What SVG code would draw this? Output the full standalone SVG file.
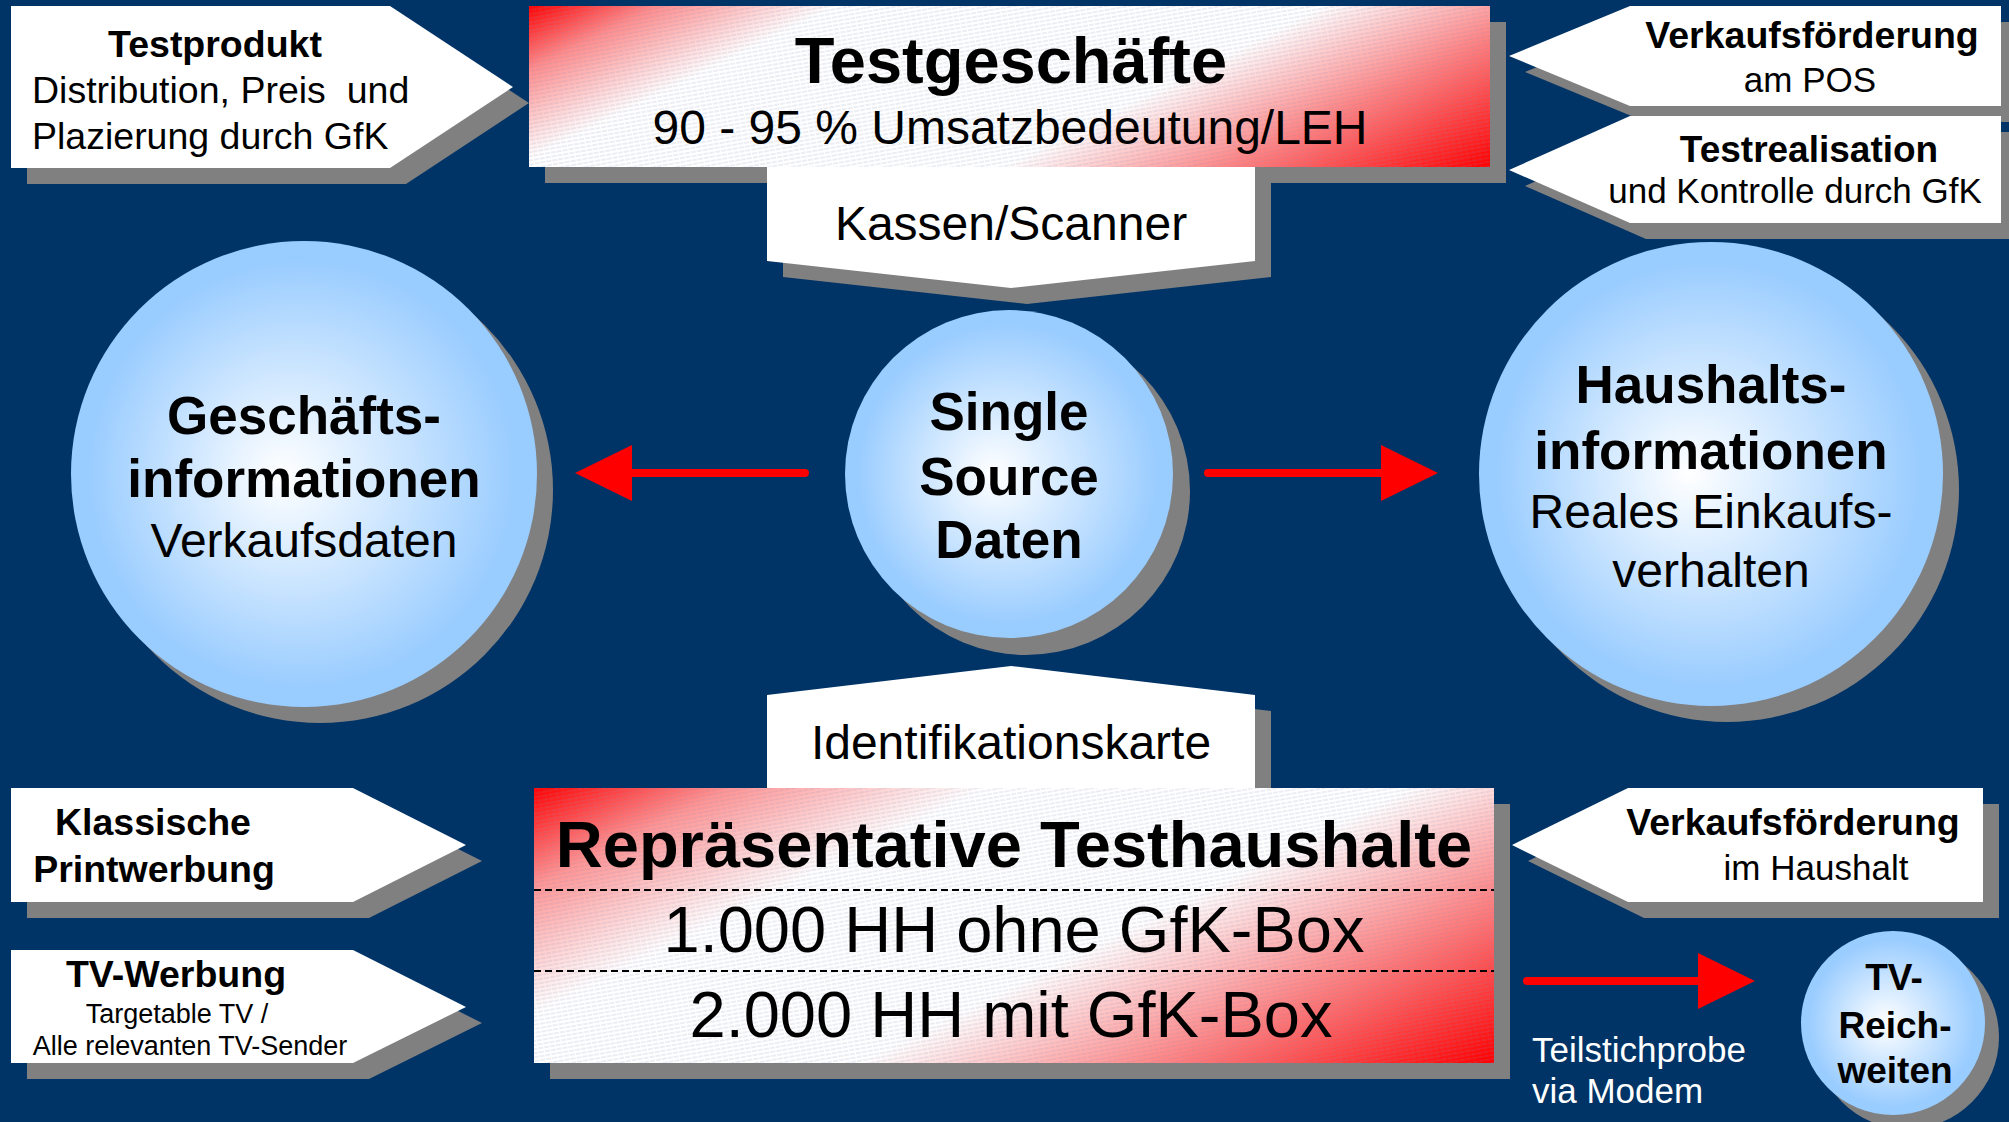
<svg xmlns="http://www.w3.org/2000/svg" width="2009" height="1122" viewBox="0 0 2009 1122">
  <defs>
    <style>
      text { font-family: "Liberation Sans", Arial, sans-serif; fill: #000; }
      .b { font-weight: bold; }
      .c { text-anchor: middle; }
      .shadow { fill: #808080; }
      .card { fill: #ffffff; }
      .bubble { fill: url(#bubbleFill); }
      .grain { fill: url(#hatch); }
      .flow { stroke: #ff0000; stroke-width: 8; stroke-linecap: round; fill: none; marker-end: url(#head); }
      .divider { stroke: #000; stroke-width: 2; stroke-dasharray: 7 4; }
      .white { fill: #ffffff; }
    </style>
    <!-- red corners fading to a white middle, one per panel -->
    <linearGradient id="redFadeTop" gradientUnits="userSpaceOnUse" x1="529" y1="6" x2="786" y2="519">
      <stop offset="0" stop-color="#ff0000"/>
      <stop offset="0.1" stop-color="#ff8c8c"/>
      <stop offset="0.24" stop-color="#ffffff"/>
      <stop offset="0.62" stop-color="#ffffff"/>
      <stop offset="0.8" stop-color="#ff8080"/>
      <stop offset="1" stop-color="#ff0000"/>
    </linearGradient>
    <linearGradient id="redFadeBottom" gradientUnits="userSpaceOnUse" x1="534" y1="788" x2="836" y2="1391">
      <stop offset="0" stop-color="#ff0000"/>
      <stop offset="0.13" stop-color="#ff9494"/>
      <stop offset="0.3" stop-color="#ffffff"/>
      <stop offset="0.58" stop-color="#ffffff"/>
      <stop offset="0.78" stop-color="#ff8484"/>
      <stop offset="1" stop-color="#ff0000"/>
    </linearGradient>
    <radialGradient id="bubbleFill" cx="0.5" cy="0.5" r="0.5" fx="0.45" fy="0.5">
      <stop offset="0" stop-color="#ffffff"/>
      <stop offset="0.92" stop-color="#99ccff"/>
      <stop offset="1" stop-color="#99ccff"/>
    </radialGradient>
    <pattern id="hatch" patternUnits="userSpaceOnUse" width="12" height="4" patternTransform="rotate(-10)">
      <line x1="0" y1="2" x2="12" y2="2" stroke="#7f90b5" stroke-width="1" stroke-dasharray="5 1" opacity="0.3"/>
    </pattern>
    <marker id="head" markerUnits="userSpaceOnUse" viewBox="0 -30 60 60" markerWidth="60" markerHeight="60" refX="2" refY="0" orient="auto">
      <path d="M0,-28 L57,0 L0,28 Z" fill="#ff0000"/>
    </marker>
  </defs>

  <!-- background -->
  <rect x="0" y="0" width="2009" height="1122" fill="#003366"/>

  <!-- top left: test product -->
  <g id="testprodukt">
    <polygon class="shadow" transform="translate(16,16)" points="11,6 390,6 513,87 390,168 11,168"/>
    <polygon class="card" points="11,6 390,6 513,87 390,168 11,168"/>
    <text class="b c" x="215" y="57" font-size="37.5">Testprodukt</text>
    <text x="32" y="103" font-size="37.5" style="white-space:pre">Distribution, Preis  und</text>
    <text x="32" y="149" font-size="37.5">Plazierung durch GfK</text>
  </g>

  <!-- top centre: test stores -->
  <g id="testgeschaefte">
    <rect class="shadow" x="545" y="22" width="961" height="161"/>
    <rect x="529" y="6" width="961" height="161" fill="url(#redFadeTop)"/>
    <rect class="grain" x="529" y="6" width="961" height="161"/>
    <text class="b c" x="1011" y="83" font-size="65">Testgeschäfte</text>
    <text class="c" x="1010" y="144" font-size="48">90 - 95 % Umsatzbedeutung/LEH</text>
  </g>

  <!-- checkout / scanner arrow pointing down -->
  <g id="kassen">
    <polygon class="shadow" transform="translate(16,16)" points="767,167 1255,167 1255,261 1011,288 767,261"/>
    <polygon class="card" points="767,167 1255,167 1255,261 1011,288 767,261"/>
    <text class="c" x="1011" y="240" font-size="48">Kassen/Scanner</text>
  </g>

  <!-- top right: promotion at POS -->
  <g id="vkf-pos">
    <polygon class="shadow" transform="translate(16,16)" points="1509,56 1630,6 2001,6 2001,106 1630,106"/>
    <polygon class="card" points="1509,56 1630,6 2001,6 2001,106 1630,106"/>
    <text class="b c" x="1812" y="48" font-size="37.5">Verkaufsförderung</text>
    <text class="c" x="1810" y="92" font-size="35">am POS</text>
  </g>

  <!-- top right: test execution -->
  <g id="testrealisation">
    <polygon class="shadow" transform="translate(16,16)" points="1509,170 1630,116 2001,116 2001,223 1630,223"/>
    <polygon class="card" points="1509,170 1630,116 2001,116 2001,223 1630,223"/>
    <text class="b c" x="1809" y="162" font-size="37">Testrealisation</text>
    <text class="c" x="1795" y="203" font-size="35">und Kontrolle durch GfK</text>
  </g>

  <!-- store information -->
  <g id="geschaeftsinformationen">
    <circle class="shadow" cx="320" cy="490" r="233"/>
    <circle class="bubble" cx="304" cy="474" r="233"/>
    <text class="b c" x="304" y="434" font-size="53">Geschäfts-</text>
    <text class="b c" x="304" y="497" font-size="53">informationen</text>
    <text class="c" x="304" y="557" font-size="48">Verkaufsdaten</text>
  </g>

  <!-- single source data -->
  <g id="single-source">
    <circle class="shadow" cx="1026" cy="491" r="164"/>
    <circle class="bubble" cx="1009" cy="474" r="164"/>
    <text class="b c" x="1009" y="430" font-size="53">Single</text>
    <text class="b c" x="1009" y="495" font-size="53">Source</text>
    <text class="b c" x="1009" y="558" font-size="53">Daten</text>
  </g>

  <!-- household information -->
  <g id="haushaltsinformationen">
    <circle class="shadow" cx="1727" cy="490" r="232"/>
    <circle class="bubble" cx="1711" cy="474" r="232"/>
    <text class="b c" x="1711" y="403" font-size="53">Haushalts-</text>
    <text class="b c" x="1711" y="469" font-size="53">informationen</text>
    <text class="c" x="1711" y="528" font-size="48">Reales Einkaufs-</text>
    <text class="c" x="1711" y="587" font-size="48">verhalten</text>
  </g>

  <!-- ID card arrow pointing up -->
  <g id="identifikationskarte">
    <polygon class="shadow" transform="translate(16,16)" points="767,788 767,695 1011,666 1255,695 1255,788"/>
    <polygon class="card" points="767,788 767,695 1011,666 1255,695 1255,788"/>
    <text class="c" x="1011" y="759" font-size="48">Identifikationskarte</text>
  </g>

  <!-- representative test households -->
  <g id="testhaushalte">
    <rect class="shadow" x="550" y="804" width="960" height="275"/>
    <rect x="534" y="788" width="960" height="275" fill="url(#redFadeBottom)"/>
    <rect class="grain" x="534" y="788" width="960" height="275"/>
    <line class="divider" x1="534" y1="890" x2="1494" y2="890"/>
    <line class="divider" x1="534" y1="971" x2="1494" y2="971"/>
    <text class="b c" x="1014" y="867" font-size="65">Repräsentative Testhaushalte</text>
    <text class="c" x="1014" y="952" font-size="65">1.000 HH ohne GfK-Box</text>
    <text class="c" x="1011" y="1037" font-size="65">2.000 HH mit GfK-Box</text>
  </g>

  <!-- bottom left: print advertising -->
  <g id="printwerbung">
    <polygon class="shadow" transform="translate(16,16)" points="11,788 353,788 466,845 353,902 11,902"/>
    <polygon class="card" points="11,788 353,788 466,845 353,902 11,902"/>
    <text class="b c" x="153" y="835" font-size="37.5">Klassische</text>
    <text class="b c" x="154" y="882" font-size="37.5">Printwerbung</text>
  </g>

  <!-- bottom left: TV advertising -->
  <g id="tv-werbung">
    <polygon class="shadow" transform="translate(16,16)" points="11,950 353,950 466,1007 353,1063 11,1063"/>
    <polygon class="card" points="11,950 353,950 466,1007 353,1063 11,1063"/>
    <text class="b c" x="176" y="987" font-size="37.5">TV-Werbung</text>
    <text class="c" x="177" y="1023" font-size="27">Targetable TV /</text>
    <text class="c" x="190" y="1055" font-size="27">Alle relevanten TV-Sender</text>
  </g>

  <!-- bottom right: promotion in the household -->
  <g id="vkf-haushalt">
    <polygon class="shadow" transform="translate(16,16)" points="1512,845 1628,788 1983,788 1983,902 1628,902"/>
    <polygon class="card" points="1512,845 1628,788 1983,788 1983,902 1628,902"/>
    <text class="b c" x="1793" y="835" font-size="37.5">Verkaufsförderung</text>
    <text class="c" x="1816" y="880" font-size="35">im Haushalt</text>
  </g>

  <!-- TV reach -->
  <g id="tv-reichweiten">
    <circle class="shadow" cx="1907" cy="1037" r="92"/>
    <circle class="bubble" cx="1893" cy="1023" r="92"/>
    <text class="b c" x="1894" y="990" font-size="37">TV-</text>
    <text class="b c" x="1895" y="1038" font-size="37">Reich-</text>
    <text class="b c" x="1895" y="1083" font-size="37">weiten</text>
  </g>

  <!-- connectors -->
  <g id="connectors">
    <line class="flow" x1="805" y1="473" x2="630" y2="473"/>
    <line class="flow" x1="1208" y1="473" x2="1383" y2="473"/>
    <line class="flow" x1="1527" y1="981" x2="1700" y2="981"/>
    <text class="white" x="1532" y="1062" font-size="35">Teilstichprobe</text>
    <text class="white" x="1532" y="1103" font-size="35">via Modem</text>
  </g>
</svg>
